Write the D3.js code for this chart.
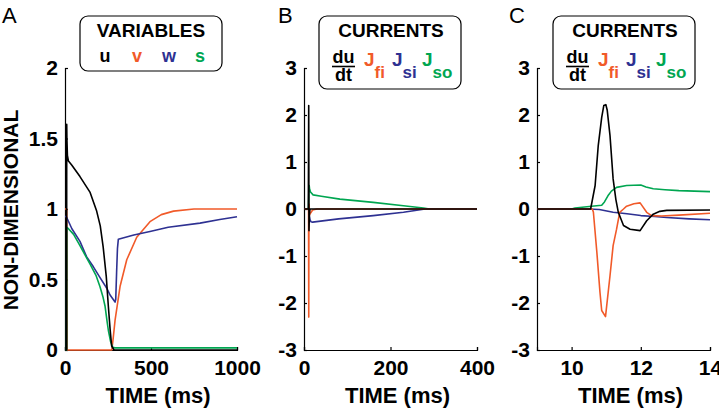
<!DOCTYPE html>
<html>
<head>
<meta charset="utf-8">
<script src="https://cdn.jsdelivr.net/npm/d3@7"></script>
<style>
  body { margin: 0; background: #fff; }
  svg { display: block; }
  text { font-family: "Liberation Sans", Arial, sans-serif; }
</style>
</head>
<body>
<svg id="chart" width="719" height="409"></svg>
<script>
// ---------- DATA ----------
// Panel A: variables over 0..1000 ms
const tU = [0, 9.5, 10, 11, 14, 20, 40, 87, 145, 183, 205, 222, 240, 252, 262, 271, 285, 1000];
const uVals = [0, 0, 1.6, 1.5, 1.38, 1.34, 1.31, 1.23, 1.12, 0.99, 0.88, 0.73, 0.52, 0.31, 0.15, 0.03, 0.0, 0.0];
const tV = [0, 10, 11, 12, 272, 280, 291, 320, 359, 417, 494, 560, 631, 750, 1000];
const vVals = [1, 1, 0.5, 0, 0, 0.08, 0.21, 0.45, 0.64, 0.80, 0.91, 0.96, 0.985, 1.0, 1.0];
const tW = [0, 10, 40, 87, 126, 165, 200, 242, 262, 291, 295, 300, 305, 310, 400, 494, 600, 785, 900, 1000];
const wVals = [0.95, 0.94, 0.86, 0.77, 0.66, 0.59, 0.52, 0.44, 0.39, 0.34, 0.36, 0.55, 0.72, 0.785, 0.815, 0.84, 0.87, 0.90, 0.925, 0.945];
const tS = [0, 9.5, 10, 20, 50, 87, 145, 180, 203, 220, 233, 245, 252, 265, 277, 290, 1000];
const sVals = [0, 0, 0.87, 0.86, 0.82, 0.74, 0.61, 0.53, 0.45, 0.38, 0.31, 0.2, 0.14, 0.06, 0.02, 0.015, 0.015];

// Panel B: currents over 0..400 ms
const tDudtB = [0, 10, 10.9, 11.5, 12.5, 14, 400];
const dudtB = [0, 0, 2.2, -0.46, -0.1, 0, 0];
const tJfiB = [0, 10.5, 11, 11.4, 12, 12.3, 14, 20, 30, 400];
const jfiB = [0, 0, -2.3, 0, 0.1, -0.14, -0.1, -0.02, 0, 0];
const tJsiB = [0, 10.5, 12, 14, 16, 20, 80, 160, 230, 280, 400];
const jsiB = [0, 0, -0.14, -0.23, -0.27, -0.28, -0.21, -0.14, -0.07, 0, 0];
const tJsoB = [0, 10, 10.5, 11.3, 12, 13, 15, 21, 40, 83, 160, 230, 276, 290, 400];
const jsoB = [0, 0, 0.05, 0.46, 0.5, 0.42, 0.36, 0.30, 0.27, 0.21, 0.14, 0.07, 0.02, 0, 0];

// Panel C: currents over 9..14 ms
const tDudtC = [9, 10.55, 10.68, 10.77, 10.87, 10.93, 10.99, 11.03, 11.11, 11.2, 11.28, 11.35, 11.5, 11.69, 11.98, 12.17, 12.36, 12.55, 12.75, 14];
const dudtC = [0, 0, 0.5, 1.35, 1.95, 2.2, 2.22, 2.1, 1.56, 0.64, 0.2, -0.07, -0.35, -0.43, -0.46, -0.25, -0.11, -0.05, -0.03, -0.02];
const tJfiC = [9, 10.6, 10.63, 10.73, 10.82, 10.87, 10.98, 11.11, 11.2, 11.3, 11.39, 11.5, 11.59, 11.8, 11.98, 12.17, 12.31, 12.6, 13.1, 14];
const jfiC = [0, 0, -0.07, -0.92, -1.77, -2.16, -2.29, -1.42, -0.78, -0.43, -0.07, 0.0, 0.06, 0.11, 0.13, -0.07, -0.14, -0.15, -0.13, -0.09];
const tJsiC = [9, 10.5, 10.8, 11.2, 11.6, 12, 12.4, 12.75, 13.4, 14];
const jsiC = [0, 0, -0.01, -0.07, -0.1, -0.14, -0.16, -0.18, -0.21, -0.23];
const tJsoC = [9, 10, 10.1, 10.58, 10.87, 10.95, 11.05, 11.15, 11.3, 11.59, 12, 12.15, 12.36, 12.7, 13.1, 14];
const jsoC = [0, 0, 0.02, 0.06, 0.08, 0.15, 0.28, 0.38, 0.46, 0.5, 0.51, 0.47, 0.43, 0.41, 0.39, 0.37];

// ticks
const ticksAx = [0, 500, 1000];
const ticksAy = [0, 0.5, 1, 1.5, 2];
const ticksBx = [0, 200, 400];
const ticksCx = [10, 12, 14];
const ticksCurY = [-3, -2, -1, 0, 1, 2, 3];

// ---------- STYLE ----------
const BLACK = "#000000", RED = "#f15a29", BLUE = "#2e3192", GREEN = "#00a651";
const svg = d3.select("#chart");
const fmt = d => String(d);   // plain hyphen-minus like the reference

function zip(t, v) { return t.map((x, i) => [x, v[i]]); }

function panel(cfg) {
  const g = svg.append("g");
  const x = d3.scaleLinear().domain(cfg.xDomain).range(cfg.xRange);
  const y = d3.scaleLinear().domain(cfg.yDomain).range([350, 68]);
  const line = d3.line().x(d => x(d[0])).y(d => y(d[1]));

  const xa = g.append("g").attr("transform", "translate(0,350)")
    .call(d3.axisBottom(x).tickValues(cfg.xTicks).tickSize(-3).tickPadding(10).tickFormat(fmt));
  const ya = g.append("g").attr("transform", `translate(${cfg.xRange[0]},0)`)
    .call(d3.axisLeft(y).tickValues(cfg.yTicks).tickSize(-3).tickPadding(7).tickFormat(fmt));
  [xa, ya].forEach(a => {
    a.select(".domain").attr("stroke", "#000").attr("stroke-width", 1.2);
    a.selectAll(".tick line").attr("stroke", "#000").attr("stroke-width", 1.2);
    a.selectAll(".tick text").attr("font-size", 21).attr("font-weight", "bold")
      .attr("font-family", "Liberation Sans, Arial, sans-serif").attr("fill", "#000");
  });

  const clip = "clip" + cfg.id;
  g.append("clipPath").attr("id", clip).append("rect")
    .attr("x", cfg.xRange[0]).attr("y", 60).attr("width", cfg.xRange[1] - cfg.xRange[0] + 2).attr("height", 292);
  const lg = g.append("g").attr("clip-path", `url(#${clip})`);
  cfg.series.forEach(s => {
    lg.append("path").datum(zip(s.t, s.v)).attr("d", line)
      .attr("fill", "none").attr("stroke", s.color).attr("stroke-width", 1.6)
      .attr("stroke-linejoin", "round");
  });

  g.append("text").attr("x", (cfg.xRange[0] + cfg.xRange[1]) / 2 + 7).attr("y", 403)
    .attr("text-anchor", "middle").attr("font-size", 22).attr("font-weight", "bold").text("TIME (ms)");

  g.append("text").attr("x", cfg.letterX).attr("y", 23).attr("font-size", 22).text(cfg.letter);
  return g;
}

panel({
  id: "A", letter: "A", letterX: 2,
  xDomain: [0, 1000], xRange: [65, 237], yDomain: [0, 2],
  xTicks: ticksAx, yTicks: ticksAy,
  series: [
    { t: tV, v: vVals, color: RED },
    { t: tW, v: wVals, color: BLUE },
    { t: tS, v: sVals, color: GREEN },
    { t: tU, v: uVals, color: BLACK }
  ]
});
panel({
  id: "B", letter: "B", letterX: 278,
  xDomain: [0, 400], xRange: [304, 477], yDomain: [-3, 3],
  xTicks: ticksBx, yTicks: ticksCurY,
  series: [
    { t: tJsoB, v: jsoB, color: GREEN },
    { t: tJsiB, v: jsiB, color: BLUE },
    { t: tJfiB, v: jfiB, color: RED },
    { t: tDudtB, v: dudtB, color: BLACK }
  ]
});
panel({
  id: "C", letter: "C", letterX: 509,
  xDomain: [9, 14], xRange: [537, 710], yDomain: [-3, 3],
  xTicks: ticksCx, yTicks: ticksCurY,
  series: [
    { t: tJsoC, v: jsoC, color: GREEN },
    { t: tJsiC, v: jsiC, color: BLUE },
    { t: tJfiC, v: jfiC, color: RED },
    { t: tDudtC, v: dudtC, color: BLACK }
  ]
});

// y-axis title
svg.append("text").attr("transform", "translate(18,210) rotate(-90)")
  .attr("text-anchor", "middle").attr("font-size", 21).attr("font-weight", "bold").text("NON-DIMENSIONAL");

// ---------- LEGENDS ----------
// Legend A
const legA = svg.append("g");
legA.append("rect").attr("x", 80).attr("y", 16).attr("width", 142).attr("height", 55).attr("rx", 8)
  .attr("fill", "#fff").attr("stroke", "#000").attr("stroke-width", 1.2);
legA.append("text").attr("x", 151).attr("y", 37).attr("text-anchor", "middle")
  .attr("font-size", 19).attr("font-weight", "bold").text("VARIABLES");
const varNames = ["u", "v", "w", "s"];
const varColors = [BLACK, RED, BLUE, GREEN];
const varX = [105, 137, 169, 200];
varNames.forEach((n, i) => {
  legA.append("text").attr("x", varX[i]).attr("y", 62).attr("text-anchor", "middle")
    .attr("font-size", 18).attr("font-weight", "bold").attr("fill", varColors[i]).text(n);
});

// Current legends
function currentLegend(x0) {
  const lg = svg.append("g").attr("transform", `translate(${x0},0)`);
  lg.append("rect").attr("x", 0).attr("y", 16).attr("width", 142).attr("height", 73).attr("rx", 8)
    .attr("fill", "#fff").attr("stroke", "#000").attr("stroke-width", 1.2);
  lg.append("text").attr("x", 72).attr("y", 37).attr("text-anchor", "middle")
    .attr("font-size", 19).attr("font-weight", "bold").text("CURRENTS");
  lg.append("text").attr("x", 24.5).attr("y", 62.5).attr("text-anchor", "middle")
    .attr("font-size", 18).attr("font-weight", "bold").text("du");
  lg.append("line").attr("x1", 13).attr("x2", 36).attr("y1", 66.5).attr("y2", 66.5)
    .attr("stroke", "#000").attr("stroke-width", 1.6);
  lg.append("text").attr("x", 24.5).attr("y", 81).attr("text-anchor", "middle")
    .attr("font-size", 18).attr("font-weight", "bold").text("dt");
  const js = [
    { x: 45, sub: "fi", c: RED },
    { x: 73, sub: "si", c: BLUE },
    { x: 103, sub: "so", c: GREEN }
  ];
  js.forEach(j => {
    const t = lg.append("text").attr("x", j.x).attr("y", 66).attr("font-size", 19)
      .attr("font-weight", "bold").attr("fill", j.c);
    t.append("tspan").text("J");
    t.append("tspan").attr("dy", 12).attr("font-size", 17).text(j.sub);
  });
}
currentLegend(319);
currentLegend(553);
</script>
</body>
</html>
